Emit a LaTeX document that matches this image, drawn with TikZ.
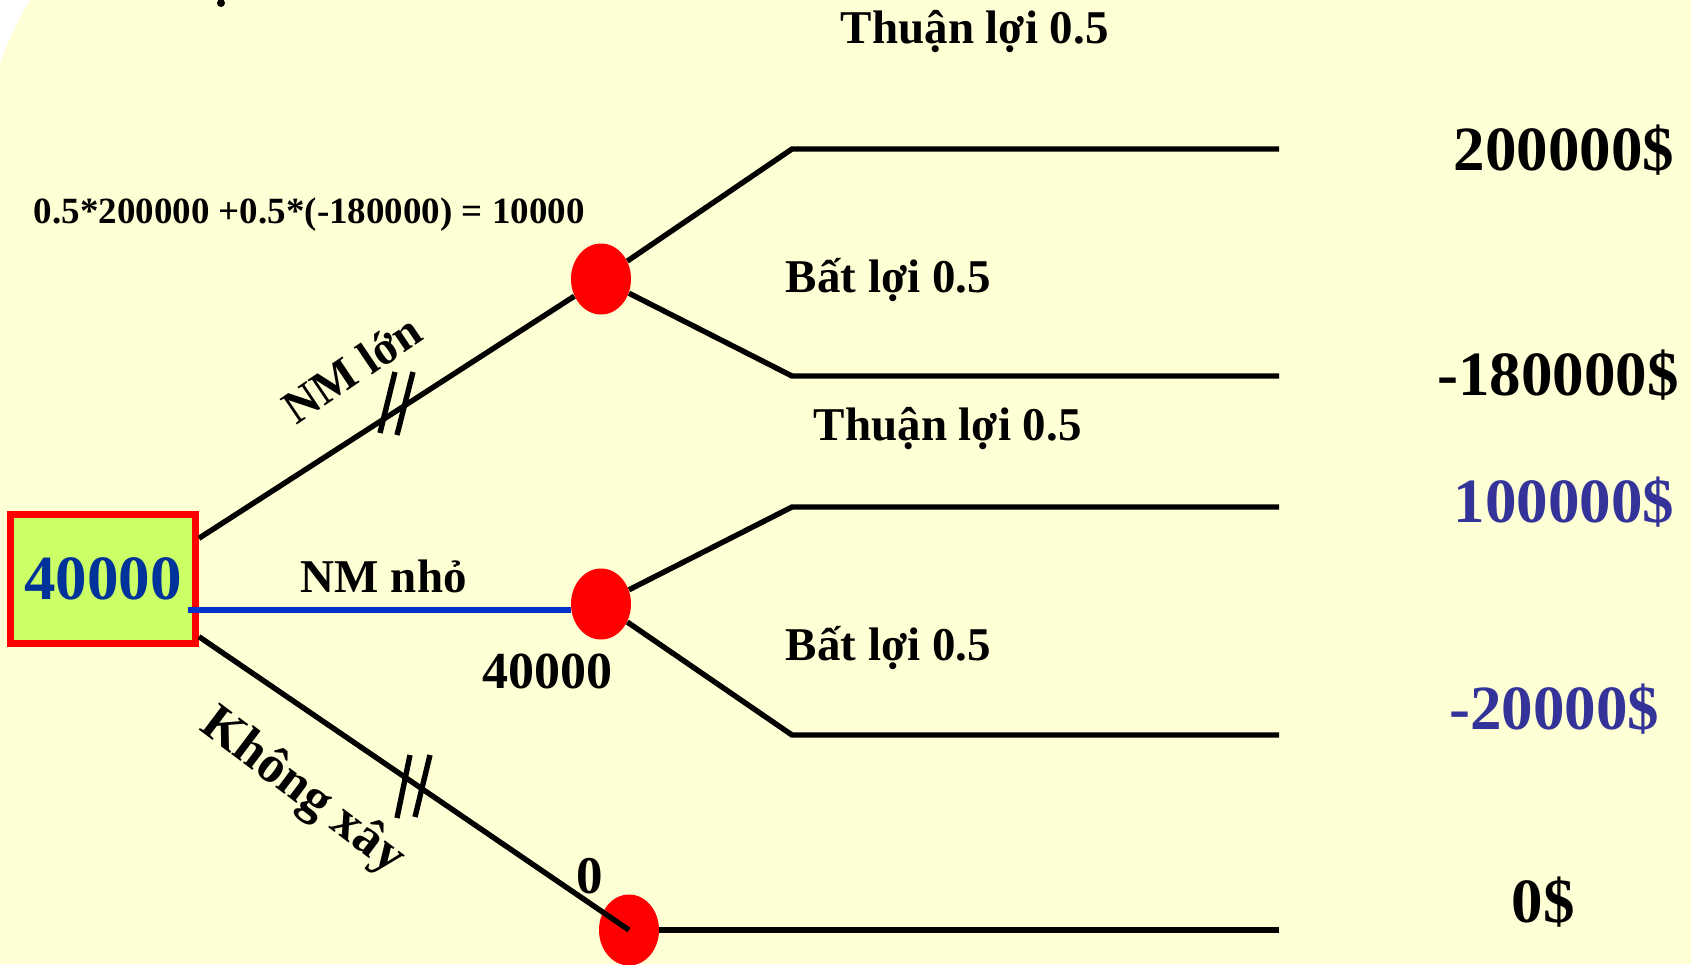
\documentclass[tikz,border=0pt]{standalone}
\usepackage{fontspec}
\setmainfont{Liberation Serif}
\usetikzlibrary{shapes.geometric}

\definecolor{bgyellow}{RGB}{255,255,213}
\definecolor{boxgreen}{RGB}{204,255,102}
\definecolor{boxtext}{RGB}{0,51,153}
\definecolor{midblue}{RGB}{0,51,204}
\definecolor{valblue}{RGB}{51,51,153}

\tikzset{
  branch/.style={line width=2.7pt},
  decbox/.style={draw=red, line width=3.5pt, fill=boxgreen, text=boxtext, inner sep=0pt,
    minimum width=92.5pt, minimum height=64.5pt, font=\bfseries\fontsize{31.5}{36}\selectfont},
  chance/.style={ellipse, fill=red, inner sep=0pt, minimum width=30pt, minimum height=35.5pt},
  lbl/.style={anchor=base west, inner sep=0.75pt, font=\bfseries\fontsize{23.5}{28}\selectfont},
  val/.style={anchor=base, inner sep=0.75pt, font=\bfseries\fontsize{31.5}{36}\selectfont},
}

\begin{document}
\begin{tikzpicture}[x=0.5pt,y=0.5pt,yscale=-1,xscale=1]
    \useasboundingbox (0,0) rectangle (1691,964);

    %Background
    \fill [white] (0,0) rectangle (1691,964);
    \fill [bgyellow] (30,0) -- (1691,0) -- (1691,964) -- (0,964) -- (0,64) .. controls (7,44) and (16,24) .. (30,0) -- cycle;
    \fill (221,3) circle (4);

    %Decision box and chance points
    \node [decbox] (dec) at (103,579) {40000};
    \node [chance] (lg) at (601,279) {};
    \node [chance] (sm) at (601,604) {};
    \node [chance] (no) at (629,930) {};

    %Branch corners
    \coordinate (lg-good) at (792,149);
    \coordinate (lg-good-end) at (1279,149);
    \coordinate (lg-bad) at (792,376);
    \coordinate (lg-bad-end) at (1279,376);
    \coordinate (sm-good) at (792,507);
    \coordinate (sm-good-end) at (1279,507);
    \coordinate (sm-bad) at (792,735);
    \coordinate (sm-bad-end) at (1279,735);
    \coordinate (no-end) at (1279,930);

    %Straight Lines
    \draw [branch] (dec.23) -- (lg);
    \draw [midblue, line width=3pt] ([xshift=-5.5pt]dec.-18) -- (sm.west |- dec.-18);
    \draw [branch] (dec.-31) -- (no.center);
    \draw [branch] (lg) -- (lg-good) -- (lg-good-end);
    \draw [branch] (lg) -- (lg-bad) -- (lg-bad-end);
    \draw [branch] (sm) -- (sm-good) -- (sm-good-end);
    \draw [branch] (sm) -- (sm-bad) -- (sm-bad-end);
    \draw [branch] (no) -- (no-end);

    %Cut marks
    \draw [branch] (413,372) -- (397,435);
    \draw [branch] (395,372) -- (380,433);
    \draw [branch] (430,755) -- (415,817);
    \draw [branch] (410,755) -- (397,818);

    % Text Node
    \draw (32,223) node [anchor=base west][inner sep=0.75pt] [font=\bfseries\fontsize{18.5}{22}\selectfont] (ev-lg) {0.5*200000 +0.5*(-180000) = 10000};
    % Text Node
    \draw (839,43) node [lbl] (lg-good-lbl) {Thuận lợi 0.5};
    % Text Node
    \draw (784,292) node [lbl] (lg-bad-lbl) {Bất lợi 0.5};
    % Text Node
    \draw (812,440) node [lbl] (sm-good-lbl) {Thuận lợi 0.5};
    % Text Node
    \draw (784,660) node [lbl] (sm-bad-lbl) {Bất lợi 0.5};
    % Text Node
    \draw (299,592) node [lbl] (sm-lbl) {NM nhỏ};
    % Text Node
    \draw (352,369) node [inner sep=0.75pt] [rotate=34, font=\bfseries\fontsize{23.5}{28}\selectfont] (lg-lbl) {NM lớn};
    % Text Node
    \draw (302,792) node [inner sep=0.75pt] [rotate=-37, font=\bfseries\fontsize{26}{30}\selectfont] (no-lbl) {Không xây};
    % Text Node
    \draw (481,688) node [lbl] [font=\bfseries\fontsize{26}{30}\selectfont] (sm-ev) {40000};
    % Text Node
    \draw (575,893) node [lbl] [font=\bfseries\fontsize{26.5}{30}\selectfont] (no-ev) {0};

    % Payoffs
    \draw (1564,170) node [val] (pay1) {200000\$};
    \draw (1558,395) node [val] (pay2) {-180000\$};
    \draw (1564,522) node [val] [text=valblue] (pay3) {100000\$};
    \draw (1554,729) node [val] [text=valblue] (pay4) {-20000\$};
    \draw (1543,922) node [val] (pay5) {0\$};
\end{tikzpicture}
\end{document}
